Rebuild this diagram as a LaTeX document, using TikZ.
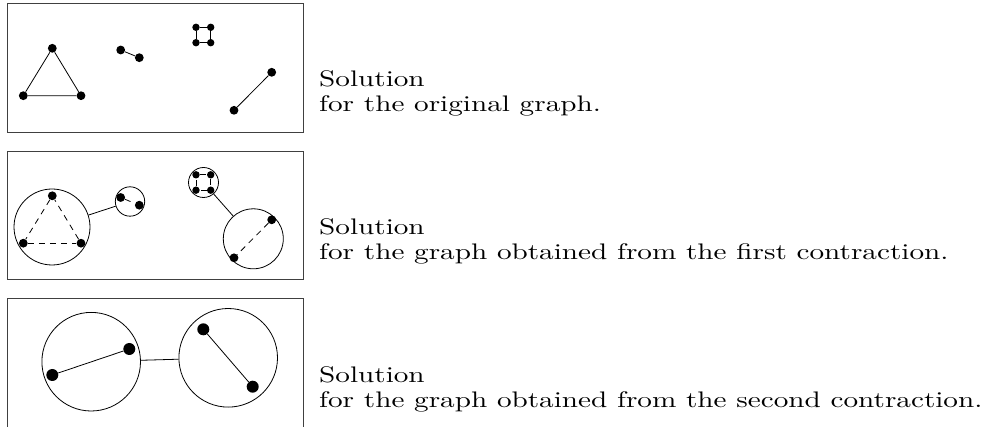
\documentclass[tikz,border=0pt]{standalone}
\usepackage{graphicx}
\newcommand{\lbltext}[1]{\scalebox{2.92}[2.25]{#1}}
\begin{document}
\begin{tikzpicture}[x=1pt,y=-1pt,
  frame/.style={draw=black!75,line width=1pt},
  dot/.style={circle,fill=black,inner sep=0pt,minimum size=8.8pt},
  sdot/.style={circle,fill=black,inner sep=0pt,minimum size=7.4pt},
  bdot/.style={circle,fill=black,inner sep=0pt,minimum size=12pt},
  ring/.style={circle,draw=black,line width=0.8pt,inner sep=0pt},
  edge/.style={line width=0.8pt},
  cedge/.style={line width=0.8pt,dash pattern=on 6pt off 5pt},
  lab/.style={anchor=base west,inner sep=0pt}]
\useasboundingbox (0,0) rectangle (985,427);
% frames
\draw[frame] (7,4) rectangle (303,133);
\draw[frame] (7,152) rectangle (303,280);
\draw[frame] (7,299) rectangle (303,440);
% ---------- box 1 ----------
\node[dot] (a1) at (52.3,48.3) {};
\node[dot] (a2) at (23.3,95.7) {};
\node[dot] (a3) at (81,95.7) {};
\node[dot] (b1) at (120.7,50) {};
\node[dot] (b2) at (139.3,57.7) {};
\node[sdot] (c1) at (196,27.3) {};
\node[sdot] (c2) at (210.7,27.3) {};
\node[sdot] (c3) at (196,42.7) {};
\node[sdot] (c4) at (210.7,42.7) {};
\node[dot] (d1) at (271.7,72.3) {};
\node[dot] (d2) at (234,110.3) {};
\draw[edge] (a1) -- (a2) -- (a3) -- (a1);
\draw[edge] (b1) -- (b2);
\draw[edge] (c1) -- (c2) -- (c4) -- (c3) -- (c1);
\draw[edge] (d1) -- (d2);
% ---------- box 2 ----------
\node[ring,minimum size=76pt] (A) at (52,227) {};
\node[ring,minimum size=29.4pt] (B) at (130,201.5) {};
\node[ring,minimum size=30pt] (C) at (203.5,182.5) {};
\node[ring,minimum size=60pt] (D) at (253.3,238.8) {};
\node[dot] (e1) at (52.3,195.8) {};
\node[dot] (e2) at (23.3,243.2) {};
\node[dot] (e3) at (81,243.2) {};
\node[dot] (f1) at (120.7,197.5) {};
\node[dot] (f2) at (139.3,205.2) {};
\node[sdot] (g1) at (196,174.8) {};
\node[sdot] (g2) at (210.7,174.8) {};
\node[sdot] (g3) at (196,190.2) {};
\node[sdot] (g4) at (210.7,190.2) {};
\node[dot] (h1) at (271.7,219.8) {};
\node[dot] (h2) at (234,257.8) {};
\draw[cedge] (e1) -- (e2);
\draw[cedge] (e2) -- (e3);
\draw[cedge] (e3) -- (e1);
\draw[cedge] (f1) -- (f2);
\draw[cedge] (g1) -- (g2);
\draw[cedge] (g2) -- (g4);
\draw[cedge] (g4) -- (g3);
\draw[cedge] (g3) -- (g1);
\draw[cedge] (h1) -- (h2);
\draw[edge] (A) -- (B);
\draw[edge] (C) -- (D);
% ---------- box 3 ----------
\node[ring,minimum size=98.6pt] (L) at (91.2,361.7) {};
\node[ring,minimum size=98.6pt] (R) at (228.2,357.8) {};
\node[bdot] (p1) at (129.3,349) {};
\node[bdot] (p2) at (52.3,375) {};
\node[bdot] (q1) at (203.3,329.3) {};
\node[bdot] (q2) at (252.7,386.7) {};
\draw[edge] (p1) -- (p2);
\draw[edge] (q1) -- (q2);
\draw[edge] (L) -- (R);
% ---------- labels ----------
\node[lab] (s1) at (319,87) {\lbltext{Solution}};
\node[lab] (t1) at (319,112) {\lbltext{for the original graph.}};
\node[lab] (s2) at (319,234.5) {\lbltext{Solution}};
\node[lab] (t2) at (319,259.5) {\lbltext{for the graph obtained from the first contraction.}};
\node[lab] (s3) at (319,382) {\lbltext{Solution}};
\node[lab] (t3) at (319,407) {\lbltext{for the graph obtained from the second contraction.}};
\end{tikzpicture}
\end{document}
